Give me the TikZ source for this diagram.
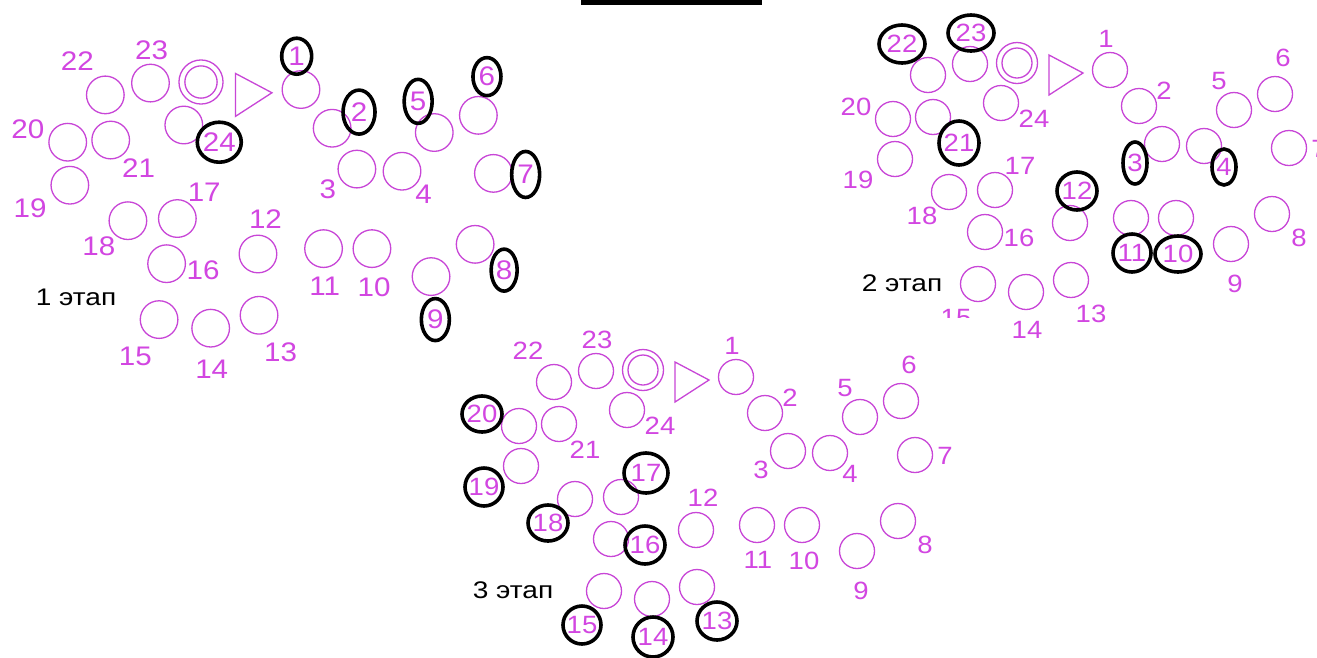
\documentclass[tikz,border=0pt]{standalone}
\usepackage{fontspec}
\setmainfont{Liberation Sans}[FakeStretch=1.1]
\newfontfamily\stagefont{Liberation Sans}[FakeStretch=1.17]
\definecolor{seatpink}{RGB}{200,70,215}
\definecolor{numpink}{RGB}{210,70,225}

\tikzset{
  seat/.style={circle, draw=seatpink, line width=1.3pt, minimum size=35pt, inner sep=0pt},
  hub/.style={circle, draw=seatpink, line width=1.3pt, inner sep=0pt},
  num/.style={text=numpink, font=\fontsize{25}{25}\selectfont, inner sep=0pt},
  pick/.style={draw=black, line width=3.6pt},
  stagename/.style={font=\stagefont\fontsize{24}{24}\selectfont, inner sep=0pt}
}

% one seating plan, centred on the double circle
\newcommand{\seatplan}[1]{%
  \node[hub, minimum size=41pt] (#1-hub) at (0,0) {};
  \node[hub, minimum size=30pt] (#1-hubin) at (0,0) {};
  \draw[seatpink, line width=1.3pt, line join=miter] (32,-8) -- (66,10) -- (32,32) -- cycle;
  \foreach \i/\cx/\cy/\lx/\ly in {1/93/7/89/-24, 2/122/43/147/28, 3/145/81/118/100,
      4/187/83/207/104, 5/217/47/202/18, 6/258/31/266/-5, 7/272/85/302/86,
      8/255/151/282/175, 9/214/181/218/221, 10/159/155/161/191, 11/114/155/115/190,
      12/53/160/60/128, 13/54/217/74/251, 14/9/229/10/267, 15/-39/221/-61/255,
      16/-32/169/2/175, 17/-22/127/3/103, 18/-68/129/-95/153, 19/-122/96/-159/117,
      20/-124/56/-161/44, 21/-84/54/-58/80, 22/-89/12/-115/-19, 23/-47/1/-46/-30,
      24/-16/40/17/56}{
    \node[seat] (#1-c\i) at (\cx,\cy) {};
    \node[num] (#1-l\i) at (\lx,\ly) {\i};
  }%
}

\begin{document}
\begin{tikzpicture}[x=1pt,y=-1pt]
\useasboundingbox[fill=white] (0,0) rectangle (1317,657);

\fill (581,0) rectangle (762,5);

\begin{scope}[shift={(201,82)}, scale=1.075, transform shape]
  \seatplan{P1}
\end{scope}
\node[stagename] (st1) at (76,297) {1 этап};

\begin{scope}[shift={(1017,63)}]
  \seatplan{P2}
\end{scope}
\fill[white] (935,318) rectangle (1000,345);
\node[stagename] (st2) at (902,283) {2 этап};

\begin{scope}[shift={(643,370)}]
  \seatplan{P3}
\end{scope}
\node[stagename] (st3) at (513,590) {3 этап};

% chosen seats
\foreach \n/\rx/\ry in {P1-l1/15/18, P1-l2/16/22, P1-l5/14/22, P1-l6/14/19,
    P1-l7/14/23, P1-l8/13/21, P1-l9/14/21, P1-l24/22/20,
    P2-l22/23/19, P2-l23/23/18, P2-l21/20/22, P2-l3/12/21,
    P2-l4/12/18, P2-l12/20/19, P2-l11/19/19, P2-l10/23/18,
    P3-l20/20/18, P3-l19/19/19, P3-l17/22/20, P3-l18/20/18,
    P3-l16/20/19, P3-l15/19/19, P3-l14/20/20, P3-l13/20/19}
  \draw[pick] (\n) ellipse [x radius=\rx pt, y radius=\ry pt];
\end{tikzpicture}
\end{document}
